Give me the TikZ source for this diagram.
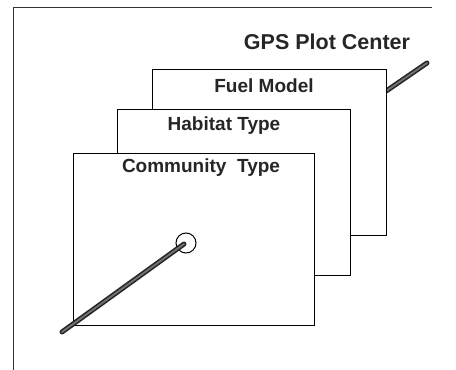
\documentclass[tikz,border=0pt]{standalone}
\usepackage{fontspec}
\setmainfont{Liberation Sans}
\begin{document}
\begin{tikzpicture}[x=1pt,y=-1pt,
  layer/.style={draw=black, fill=white, line width=1.1pt, anchor=north west, inner sep=0pt},
  lbl/.style={font=\bfseries\fontsize{19}{22}\selectfont, text=black!85, inner sep=0pt},
  title/.style={font=\bfseries\fontsize{21.5}{25}\selectfont, text=black!85, inner sep=0pt},
  rodout/.style={draw=black!85, line width=5pt, line cap=round},
  rodin/.style={draw=black!55, line width=1.8pt, line cap=round}]
\useasboundingbox (0,0) rectangle (456,370);
% outer frame
\coordinate (ftr) at (432,7);
\coordinate (ftl) at (13,7);
\coordinate (fbl) at (13,370);
\draw[line width=0.9pt, black!80] (ftr) -- (ftl) -- (fbl);
% upper rod (behind stack)
\coordinate (ua) at (360,109);
\coordinate (ub) at (427,63);
\draw[rodout] (ua) -- (ub);
\draw[rodin] (ua) -- (ub);
% layers
\node[layer, minimum width=234pt, minimum height=166pt] (fuel) at (152,69) {};
\node[lbl] (fuelt) at (264,86) {Fuel Model};
\node[layer, minimum width=233pt, minimum height=166pt] (hab) at (117,109) {};
\node[lbl] (habt) at (224,126) {Habitat Type};
\node[layer, minimum width=241pt, minimum height=172pt] (com) at (73,153) {};
\node[lbl] (comt) at (201,168) {Community\ \ Type};
% title
\node[title] (gps) at (327,42) {GPS Plot Center};
% lower rod and circle
\node[draw=black, line width=1pt, circle, minimum size=20pt, inner sep=0pt] (ring) at (186,243) {};
\coordinate (la) at (62,332);
\coordinate (lb) at (184,244);
\draw[rodout] (la) -- (lb);
\draw[rodin] (la) -- (lb);
\end{tikzpicture}
\end{document}
